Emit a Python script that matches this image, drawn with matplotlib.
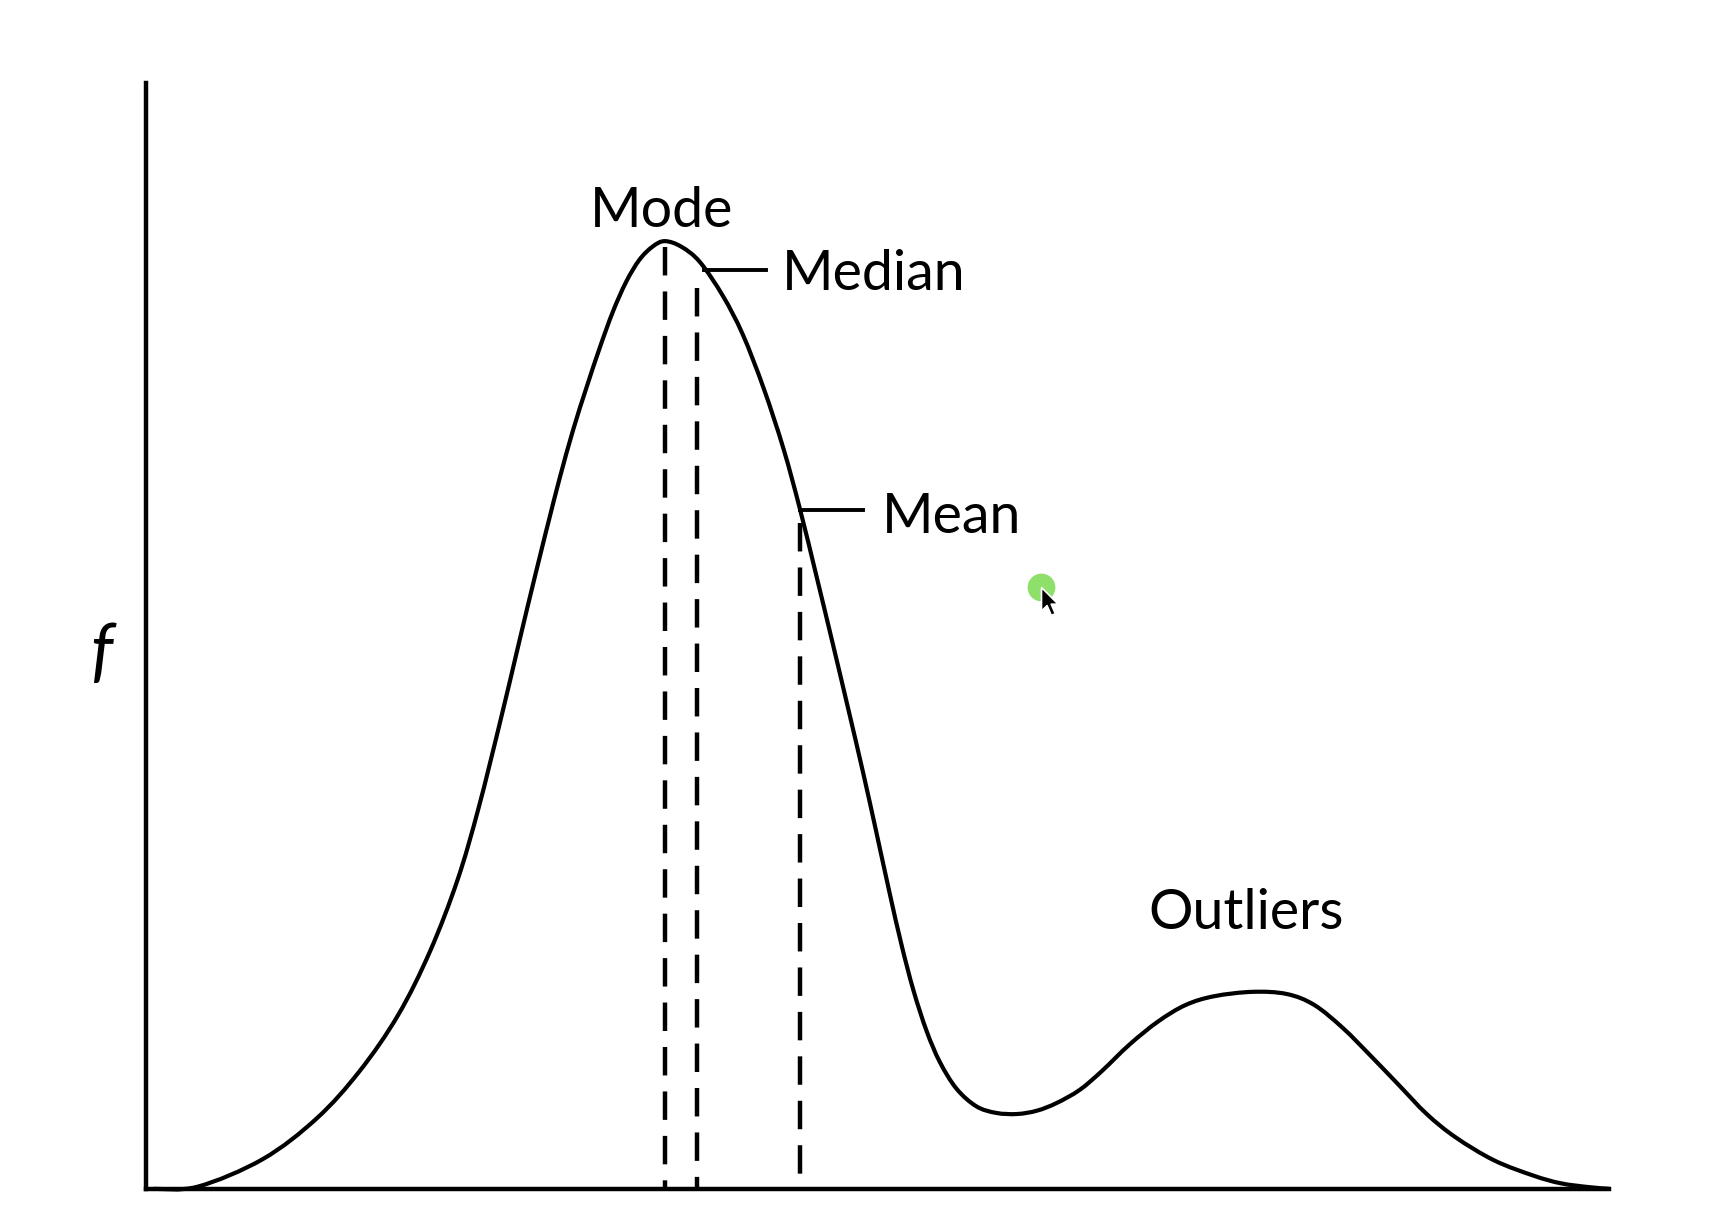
import matplotlib.pyplot as plt
from matplotlib.path import Path
from matplotlib.patches import PathPatch

# density curve
# x = distance along the horizontal axis, y = height above it (same units)
curve_x = [7, 47, 106, 155, 194, 229, 258, 283, 302, 322, 337, 347, 359, 366,
           376, 388, 400, 412, 424, 436, 448, 460, 471, 486, 503, 524, 542,
           561, 579, 594, 609, 623, 637, 651, 663, 675, 686, 697, 709, 721,
           736, 754, 772, 791, 809, 827, 848, 868, 893, 919, 944, 970, 1005,
           1036, 1061, 1087, 1112, 1138, 1163, 1189, 1224, 1260, 1285, 1311,
           1329]
curve_y = [0, 2, 27, 64, 107, 158, 216, 281, 346, 426, 489, 531, 580, 608,
           647, 690, 728, 764, 797, 824, 844, 856, 861, 856, 842, 811, 776,
           727, 672, 617, 556, 498, 439, 379, 325, 270, 222, 180, 143, 115,
           91, 75, 69, 68, 71, 78, 90, 107, 131, 152, 167, 175, 179,
           177, 167, 146, 121, 94, 68, 47, 26, 12, 5, 1.5,
           0]

# central tendency markers (dashed lines)
stat_names = ['Mode', 'Median', 'Mean']
stat_x = [471, 500, 594]
stat_top = [856, 818, 605]

cursor_x = [813]
cursor_y = [547]


def smooth_path(xs, ys):
    # catmull-rom through the read points, drawn as cubic bezier segments
    pts = list(zip(xs, ys))
    ext = [pts[0]] + pts + [pts[-1]]
    verts = [pts[0]]
    codes = [Path.MOVETO]
    for i in range(1, len(ext) - 2):
        p0, p1, p2, p3 = ext[i - 1], ext[i], ext[i + 1], ext[i + 2]
        c1 = (p1[0] + (p2[0] - p0[0]) / 6, p1[1] + (p2[1] - p0[1]) / 6)
        c2 = (p2[0] - (p3[0] - p1[0]) / 6, p2[1] - (p3[1] - p1[1]) / 6)
        verts += [c1, c2, p2]
        codes += [Path.CURVE4] * 3
    return Path(verts, codes)


plt.rcParams['font.family'] = ['Lato', 'DejaVu Sans']

fig = plt.figure(figsize=(17.26, 12.26), dpi=100)
ax = fig.add_axes([0.0846, 0.0303, 0.8479, 0.9023])
ax.set_xlim(0, 1329)
ax.set_ylim(0, 1005)

ax.add_patch(PathPatch(smooth_path(curve_x, curve_y), facecolor='none',
                       edgecolor='black', lw=3.0, joinstyle='round',
                       clip_on=False, zorder=3))

for x, top in zip(stat_x, stat_top):
    ax.plot([x, x], [top, 0], color='black', lw=3.2,
            linestyle=(0, (6.4, 3.6)), dash_capstyle='butt', zorder=2)

# leader lines for the labels
ax.plot([507, 563], [835, 835], color='black', lw=2.8)
ax.plot([594, 651], [617, 617], color='black', lw=2.8)

fs = 40
ax.text(468.6, 874, stat_names[0], fontsize=fs, ha='center', va='baseline')
ax.text(577, 816.6, stat_names[1], fontsize=fs, ha='left', va='baseline')
ax.text(668, 595.5, stat_names[2], fontsize=fs, ha='left', va='baseline')
ax.text(999, 236, 'Outliers', fontsize=fs, ha='center', va='baseline')
ax.text(-41, 486, 'f', fontsize=50, style='italic', ha='center', va='center')

# screen-recording cursor
ax.plot(cursor_x, cursor_y, 'o', ms=20, color='#8fe06b', mec='none',
        clip_on=False, zorder=4)
arrow = Path([(0, 0), (0, -17), (4, -13), (7, -20), (10, -19), (7, -12),
              (12, -12), (0, 0)])
ax.plot(cursor_x, cursor_y, marker=arrow, ms=40, color='black', mec='white',
        mew=1.2, linestyle='none', clip_on=False, zorder=5)

ax.spines[['top', 'right']].set_visible(False)
ax.spines[['left', 'bottom']].set_linewidth(3.2)
ax.set_xticks([])
ax.set_yticks([])

fig.savefig('out.png', dpi=100, facecolor='white')
